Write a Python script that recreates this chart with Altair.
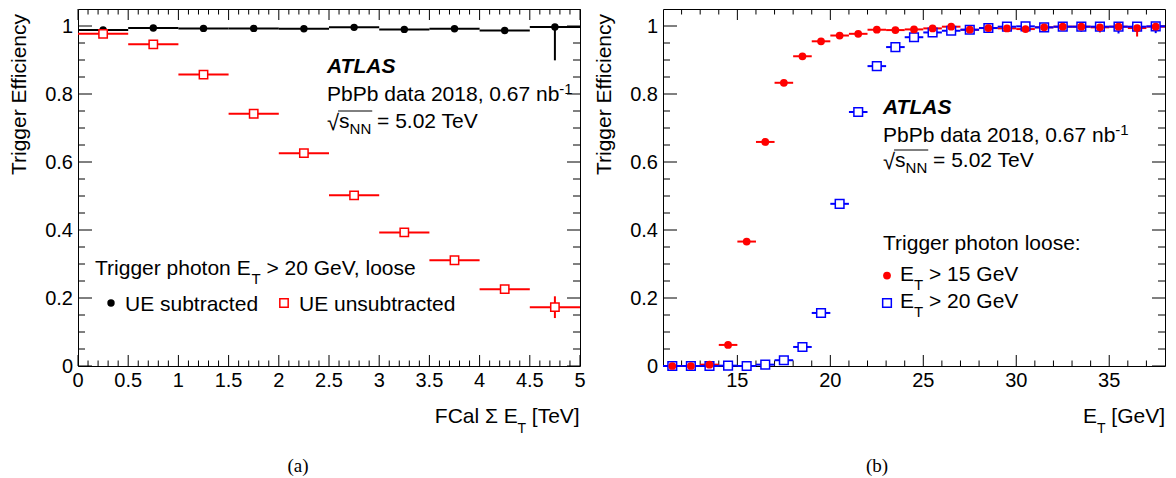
import altair as alt
import pandas as pd

# ---------------- panel (a): efficiency vs FCal sum ET ----------------
fcal_center = [0.25, 0.75, 1.25, 1.75, 2.25, 2.75, 3.25, 3.75, 4.25, 4.75]
fcal_halfbin = 0.25
eff_sub = [0.988, 0.994, 0.993, 0.993, 0.992, 0.996, 0.990, 0.992, 0.987, 0.997]
eff_sub_err = [0.003, 0.002, 0.002, 0.002, 0.003, 0.003, 0.004, 0.005, 0.006, 0.098]
eff_unsub = [0.977, 0.946, 0.857, 0.742, 0.626, 0.502, 0.393, 0.311, 0.226, 0.173]
eff_unsub_err = [0.003, 0.003, 0.004, 0.005, 0.006, 0.007, 0.008, 0.010, 0.012, 0.032]

# ---------------- panel (b): efficiency vs photon ET ----------------
et_center = [11.5, 12.5, 13.5, 14.5, 15.5, 16.5, 17.5, 18.5, 19.5, 20.5, 21.5, 22.5, 23.5,
             24.5, 25.5, 26.5, 27.5, 28.5, 29.5, 30.5, 31.5, 32.5, 33.5, 34.5, 35.5, 36.5, 37.5]
et_halfbin = 0.5
eff15 = [0.0, 0.0, 0.004, 0.062, 0.366, 0.659, 0.833, 0.911, 0.955, 0.972, 0.977, 0.989, 0.988,
         0.990, 0.993, 0.998, 0.989, 0.994, 0.993, 0.991, 0.996, 0.998, 0.998, 0.996, 0.998, 0.994, 0.998]
eff15_err = [0.002, 0.002, 0.008, 0.006, 0.010, 0.010, 0.008, 0.006, 0.005, 0.004, 0.004, 0.003, 0.003,
             0.004, 0.004, 0.004, 0.008, 0.005, 0.006, 0.008, 0.006, 0.006, 0.008, 0.015, 0.010, 0.025, 0.012]
eff20 = [0.0, 0.0, 0.0, 0.001, 0.0, 0.004, 0.017, 0.056, 0.156, 0.477, 0.747, 0.882, 0.938,
         0.967, 0.981, 0.986, 0.989, 0.994, 0.998, 0.999, 0.996, 0.998, 0.998, 0.998, 0.998, 0.998, 0.999]
eff20_err = [0.002, 0.002, 0.002, 0.002, 0.002, 0.003, 0.004, 0.006, 0.008, 0.010, 0.010, 0.008, 0.006,
             0.005, 0.004, 0.004, 0.004, 0.004, 0.005, 0.005, 0.006, 0.008, 0.015, 0.010, 0.020, 0.012, 0.020]

# tick positions and tick labels
a_x_major = [0, 0.5, 1, 1.5, 2, 2.5, 3, 3.5, 4, 4.5, 5]
a_x_labels = ["0", "0.5", "1", "1.5", "2", "2.5", "3", "3.5", "4", "4.5", "5"]
a_x_minor = [round(i * 0.1, 1) for i in range(1, 50) if i % 5]
b_x_major = [15, 20, 25, 30, 35]
b_x_labels = ["15", "20", "25", "30", "35"]
b_x_minor = [v for v in range(12, 38) if v % 5]
y_major = [0, 0.2, 0.4, 0.6, 0.8, 1]
a_y_labels = ["0", "0.2", "0.4", "0.6", "0.8", "1"]
b_y_labels = ["0", "0.2", "0.4", "0.6", "0.8", "1"]
y_minor = [round(i * 0.05, 2) for i in range(1, 21) if i % 4]

FONT = "Liberation Sans"
RED = "#ff0000"
BLUE = "#0000ff"
W, H = 502, 357
YDOM = [0, 1.05]
A_DOM = [0, 5]
B_DOM = [11, 38]
LBL = 20  # tick label font size

# Arial / Liberation Sans advance widths (1/1000 em) for layout of rich text
AW = {' ': 278, '!': 278, '(': 333, ')': 333, ',': 278, '-': 333, '.': 278, ':': 278, '=': 584,
      '>': 584, '[': 278, ']': 278, 'A': 667, 'B': 667, 'C': 722, 'E': 667, 'F': 611, 'G': 778,
      'L': 556, 'N': 722, 'P': 667, 'S': 667, 'T': 611, 'U': 722, 'V': 667, 'a': 556, 'b': 556,
      'c': 500, 'd': 556, 'e': 556, 'f': 278, 'g': 556, 'h': 556, 'i': 222, 'l': 222, 'n': 556,
      'o': 556, 'p': 556, 'r': 333, 's': 500, 't': 278, 'u': 556, 'v': 500, 'y': 500,
      'Σ': 600, '√': 549}


def tw(s, size):
    return sum(AW.get(ch, 556) for ch in s) * size / 1000.0


ONE = pd.DataFrame({"k": [0]})


def txt(s, x, y, size=21, align="left", baseline="alphabetic", font=FONT, **kw):
    return alt.Chart(ONE).mark_text(text=s, align=align, baseline=baseline, font=font,
                                    fontSize=size, color="black", **kw).encode(
        x=alt.value(x), y=alt.value(y))


def rich(pieces, x, yb, anchor="left"):
    total = sum(tw(t, s) for t, s, d in pieces)
    cx = x - total if anchor == "right" else x
    out = []
    for t, s, d in pieces:
        lead = len(t) - len(t.lstrip(" "))
        cx += tw(" " * lead, s)
        t2 = t.lstrip(" ")
        if t2:
            out.append(txt(t2, cx, yb + d, s))
        cx += tw(t2, s)
    return out


def sqrt_line(x, yb):
    out = [txt("√", x, yb + 2, 22)]
    x1 = x + tw("√", 22) - 1
    out += rich([("s", 21, 0), ("NN", 15, 6), (" = 5.02 TeV", 21, 0)], x1 + 1, yb)
    x2 = x1 + 1 + tw("s", 21) + tw("NN", 15) + 1
    out.append(alt.Chart(ONE).mark_rule(color="black", strokeWidth=1).encode(
        x=alt.value(x1), x2=alt.value(x2), y=alt.value(yb - 17)))
    return out


def xenc(field, dom):
    return alt.X(f"{field}:Q", scale=alt.Scale(domain=dom, nice=False, zero=False), axis=None)


def yenc(field):
    return alt.Y(f"{field}:Q", scale=alt.Scale(domain=YDOM, nice=False, zero=False), axis=None)


def tick_layers(dom, xmaj, xlabels, xmin, ylabels):
    L = []
    dmaj = pd.DataFrame({"v": xmaj, "t": xlabels})
    dmin = pd.DataFrame({"v": xmin})
    ymaj = pd.DataFrame({"v": y_major, "t": ylabels})
    ymin = pd.DataFrame({"v": y_minor})
    r = dict(color="black", strokeWidth=1)
    L.append(alt.Chart(dmaj).mark_rule(**r).encode(
        x=xenc("v", dom), y=alt.value(H), y2=alt.value(H - 11)))
    L.append(alt.Chart(dmaj).mark_rule(**r).encode(
        x=xenc("v", dom), y=alt.value(0), y2=alt.value(11)))
    L.append(alt.Chart(dmin).mark_rule(**r).encode(
        x=xenc("v", dom), y=alt.value(H), y2=alt.value(H - 5.5)))
    L.append(alt.Chart(dmin).mark_rule(**r).encode(
        x=xenc("v", dom), y=alt.value(0), y2=alt.value(5.5)))
    L.append(alt.Chart(ymaj).mark_rule(**r).encode(
        y=yenc("v"), x=alt.value(0), x2=alt.value(14)))
    L.append(alt.Chart(ymaj).mark_rule(**r).encode(
        y=yenc("v"), x=alt.value(W), x2=alt.value(W - 13)))
    L.append(alt.Chart(ymin).mark_rule(**r).encode(
        y=yenc("v"), x=alt.value(0), x2=alt.value(7)))
    L.append(alt.Chart(ymin).mark_rule(**r).encode(
        y=yenc("v"), x=alt.value(W), x2=alt.value(W - 7)))
    # tick labels
    L.append(alt.Chart(dmaj).mark_text(font=FONT, fontSize=LBL, color="black", align="center",
                                       baseline="alphabetic").encode(
        x=xenc("v", dom), y=alt.value(H + 21), text="t:N"))
    L.append(alt.Chart(ymaj).mark_text(font=FONT, fontSize=LBL, color="black", align="right",
                                       baseline="alphabetic", dy=7).encode(
        y=yenc("v"), x=alt.value(-5), text="t:N"))
    return L


def frame(centers, half, vals, errs):
    return pd.DataFrame({
        "x": centers,
        "lo": [c - half for c in centers],
        "hi": [c + half for c in centers],
        "y": vals,
        "ylo": [max(v - e, 0.0) for v, e in zip(vals, errs)],
        "yhi": [min(v + e, 1.0) for v, e in zip(vals, errs)],
    })


def series(df, dom, color, marker):
    L = [
        alt.Chart(df).mark_rule(color=color, strokeWidth=2).encode(
            x=xenc("lo", dom), x2=alt.X2("hi"), y=yenc("y")),
        alt.Chart(df).mark_rule(color=color, strokeWidth=2).encode(
            x=xenc("x", dom), y=yenc("ylo"), y2=alt.Y2("yhi")),
    ]
    return L, alt.Chart(df).mark_point(**marker).encode(x=xenc("x", dom), y=yenc("y"))


dot_black = dict(shape="circle", filled=True, color="black", size=55, opacity=1)
sq_red = dict(shape="square", filled=True, fill="white", stroke=RED, strokeWidth=1.5, size=70, opacity=1)
dot_red = dict(shape="circle", filled=True, color=RED, size=60, opacity=1)
sq_blue = dict(shape="square", filled=True, fill="white", stroke=BLUE, strokeWidth=1.5, size=75, opacity=1)

# ---------------- build panel (a) ----------------
dfa_s = frame(fcal_center, fcal_halfbin, eff_sub, eff_sub_err)
dfa_u = frame(fcal_center, fcal_halfbin, eff_unsub, eff_unsub_err)
La = tick_layers(A_DOM, a_x_major, a_x_labels, a_x_minor, a_y_labels)
bars_s, pts_s = series(dfa_s, A_DOM, "black", dot_black)
bars_u, pts_u = series(dfa_u, A_DOM, RED, sq_red)
La += bars_s + bars_u + [pts_s, pts_u]
La.append(txt("ATLAS", 249, 63.6, 21, fontStyle="italic", fontWeight="bold"))
La += rich([("PbPb data 2018, 0.67 nb", 21, 0), ("-1", 15, -7)], 249, 91.8)
La += sqrt_line(249, 119)
La += rich([("Trigger photon E", 21, 0), ("T", 15, 9), (" > 20 GeV, loose", 21, 0)], 17, 265.6)
La.append(alt.Chart(ONE).mark_point(**dot_black).encode(x=alt.value(33), y=alt.value(294)))
La.append(txt("UE subtracted", 47, 302.4))
La.append(alt.Chart(ONE).mark_point(**sq_red).encode(x=alt.value(206), y=alt.value(294)))
La.append(txt("UE unsubtracted", 221, 302.4))
La += rich([("FCal Σ E", 21, 0), ("T", 14, 10), (" [TeV]", 21, 0)], 504, 413.7, anchor="right")
La.append(txt("Trigger Efficiency", -58, 5, 21, align="right", baseline="middle", angle=270))
La.append(txt("(a)", 220, 457, 19, align="center", baseline="middle", font="Liberation Serif"))
left = alt.layer(*La).properties(width=W, height=H)

# ---------------- build panel (b) ----------------
dfb_15 = frame(et_center, et_halfbin, eff15, eff15_err)
dfb_20 = frame(et_center, et_halfbin, eff20, eff20_err)
Lb = tick_layers(B_DOM, b_x_major, b_x_labels, b_x_minor, b_y_labels)
bars_15, pts_15 = series(dfb_15, B_DOM, RED, dot_red)
bars_20, pts_20 = series(dfb_20, B_DOM, BLUE, sq_blue)
Lb += bars_15 + bars_20 + [pts_20, pts_15]
Lb.append(txt("ATLAS", 220, 105, 21, fontStyle="italic", fontWeight="bold"))
Lb += rich([("PbPb data 2018, 0.67 nb", 21, 0), ("-1", 15, -7)], 220, 133.3)
Lb += sqrt_line(220, 158)
Lb.append(txt("Trigger photon loose:", 220, 240.6))
Lb.append(alt.Chart(ONE).mark_point(**dot_red).encode(x=alt.value(224), y=alt.value(266.6)))
Lb += rich([("E", 21, 0), ("T", 15, 9), (" > 15 GeV", 21, 0)], 237, 272.3)
Lb.append(alt.Chart(ONE).mark_point(**sq_blue).encode(x=alt.value(224), y=alt.value(294)))
Lb += rich([("E", 21, 0), ("T", 15, 9), (" > 20 GeV", 21, 0)], 237, 299)
Lb += rich([("E", 21, 0), ("T", 14, 10), (" [GeV]", 21, 0)], 502, 413.7, anchor="right")
Lb.append(txt("Trigger Efficiency", -58, 5, 21, align="right", baseline="middle", angle=270))
Lb.append(txt("(b)", 214, 457, 19, align="center", baseline="middle", font="Liberation Serif"))
right = alt.layer(*Lb).properties(width=W, height=H)

chart = alt.hconcat(left, right, spacing=83, bounds="flush").properties(
    padding={"left": 0, "top": 0, "right": 0, "bottom": 0}
).configure_view(stroke="black", strokeWidth=1)

chart.save("out.html", embed_options={"renderer": "svg", "actions": False})
